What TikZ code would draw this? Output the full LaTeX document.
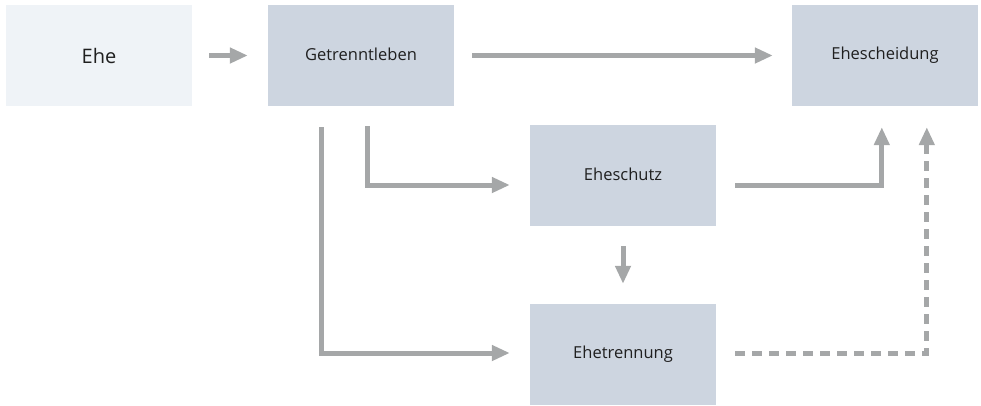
\documentclass[tikz,border=0pt]{standalone}
\usepackage{fontspec}
\setmainfont{Open Sans}
\usetikzlibrary{arrows.meta,calc}
\definecolor{boxc}{HTML}{CDD5E0}
\definecolor{boxl}{HTML}{EFF3F7}
\definecolor{arr}{HTML}{A5A7A8}
\tikzset{
  box/.style={fill=boxc, draw=none, minimum width=186pt, minimum height=101pt, inner sep=0pt, font=\fontsize{16.5}{19}\selectfont, text=black!88},
  conn/.style={draw=arr, line width=5pt, -{Triangle[length=18pt,width=15pt]}, line join=miter},
  dconn/.style={conn, dash pattern=on 10pt off 7pt}
}
\begin{document}
\begin{tikzpicture}[x=1pt,y=-1pt]
\useasboundingbox (0,0) rectangle (981,405);
\node[box, fill=boxl, font=\fontsize{20}{23}\selectfont] (ehe) at (99,55.5) {Ehe};
\node[box] (getr) at (361,55.5) {\raisebox{3pt}{Getrenntleben}};
\node[box] (schei) at (885,55.5) {\raisebox{3pt}{Ehescheidung}};
\node[box] (schutz) at (623,175.5) {\raisebox{3pt}{Eheschutz}};
\node[box] (trenn) at (623,354.5) {\raisebox{1pt}{Ehetrennung}};
\draw[conn] ([xshift=17pt]ehe.east) -- ([xshift=-20pt]getr.west);
\draw[conn] ([xshift=18pt]getr.east) -- ([xshift=-19pt]schei.west);
\draw[conn] ($(getr.south west)+(54,21)$) |- ($(trenn.west)+(-20,-1.5)$);
\draw[conn] ($(getr.south west)+(100,20)$) |- ($(schutz.west)+(-20,9.5)$);
\draw[conn] ($(schutz.east)+(19,9.5)$) -| ($(schei.south west)+(90,21)$);
\draw[conn] ($(schutz.south)+(0,20)$) -- ($(trenn.north)+(0,-20)$);
\draw[dconn] ($(trenn.east)+(19,-1.5)$) -| ($(schei.south west)+(135,21)$);
\end{tikzpicture}
\end{document}
